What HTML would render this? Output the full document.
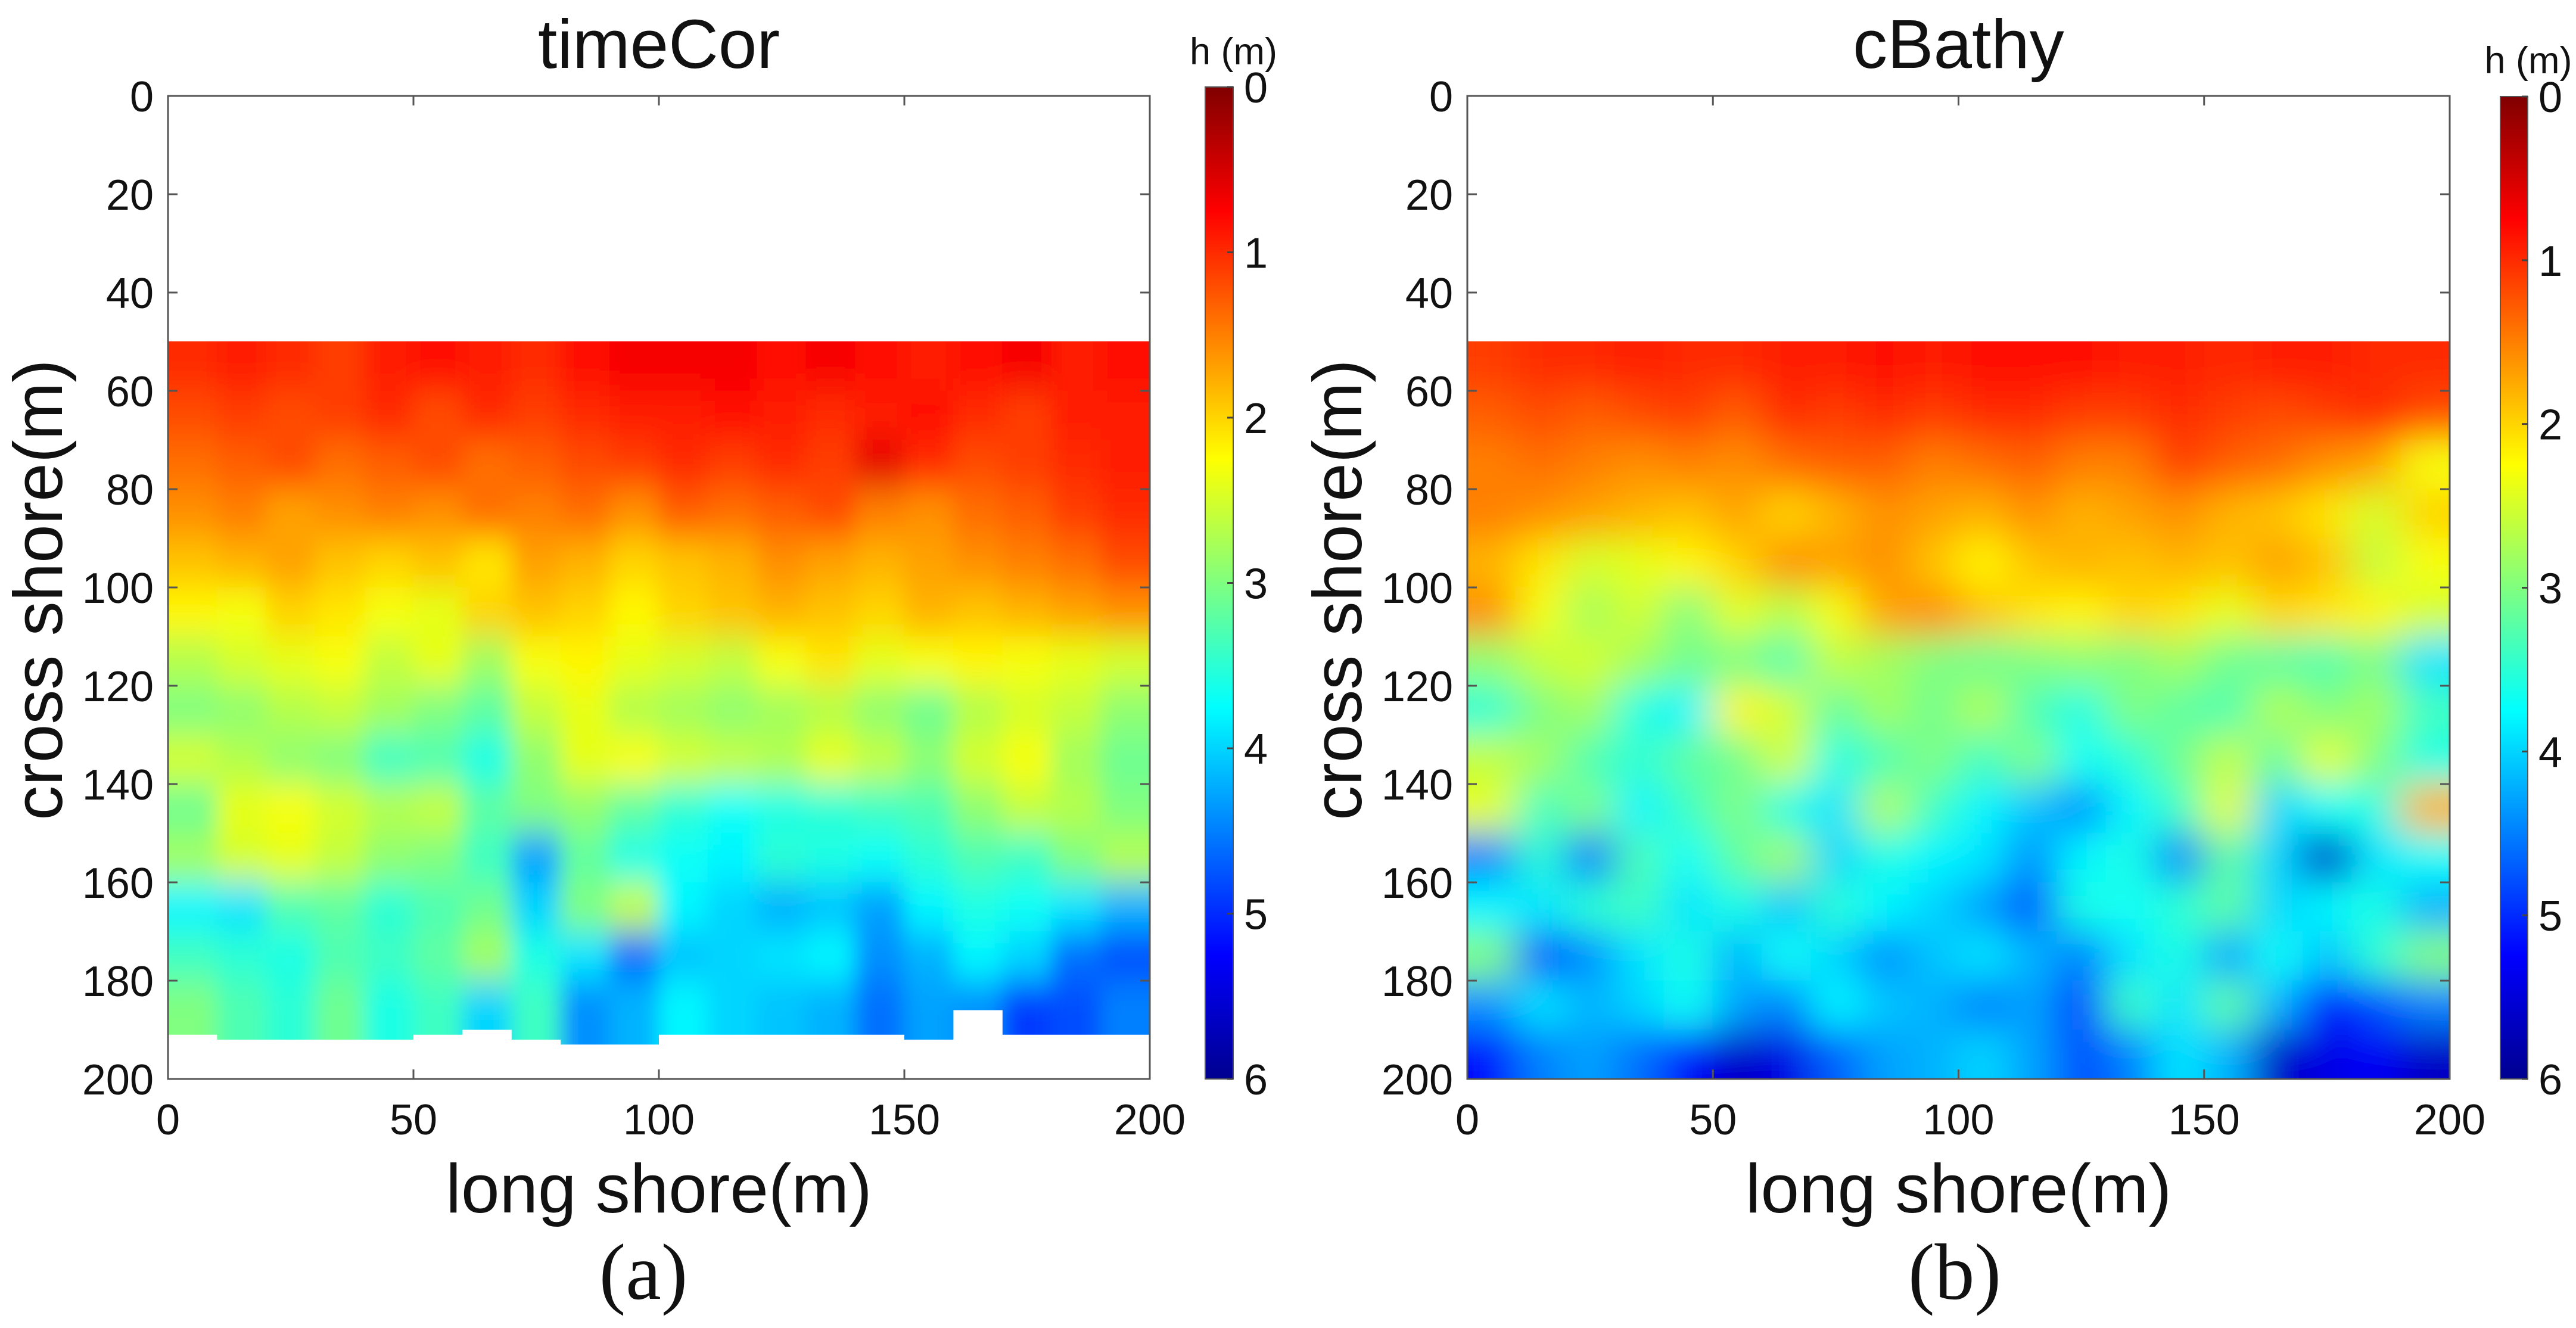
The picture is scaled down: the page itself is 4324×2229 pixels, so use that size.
<!DOCTYPE html>
<html><head><meta charset="utf-8">
<style>
html,body{margin:0;padding:0;background:#fff;}
svg{display:block;}
text{font-family:"Liberation Sans",sans-serif;fill:#111;}
</style></head>
<body>
<svg id="fig" width="4324" height="2229" viewBox="0 0 4324 2229" xmlns="http://www.w3.org/2000/svg">
<defs>
<linearGradient id="jetGrad" x1="0" y1="1" x2="0" y2="0">
<stop offset="0" stop-color="#00008f"/><stop offset="0.125" stop-color="#0000ff"/>
<stop offset="0.375" stop-color="#00ffff"/><stop offset="0.625" stop-color="#ffff00"/>
<stop offset="0.875" stop-color="#ff0000"/><stop offset="1" stop-color="#800000"/>
</linearGradient>
<filter id="blurA" filterUnits="userSpaceOnUse" x="0" y="300" width="2300" height="1800"><feGaussianBlur stdDeviation="18 30"/></filter>
<filter id="blurB" filterUnits="userSpaceOnUse" x="2200" y="300" width="2124" height="1800"><feGaussianBlur stdDeviation="34 32"/></filter>
<clipPath id="clipA"><rect x="282" y="573" width="1648" height="1238"/></clipPath>
<clipPath id="clipB"><rect x="2463" y="573" width="1649" height="1238"/></clipPath>
</defs>
<g id="panelA"></g>
<g id="panelB"></g>
</svg>
<script>
const xTicks=[0,50,100,150,200];
const yTicks=[0,20,40,60,80,100,120,140,160,180,200];
const cbTicks=[0,1,2,3,4,5,6];
const colCenters=[5,15,25,35,45,55,65,75,85,95,105,115,125,135,145,155,165,175,185,195];
const rowsA=[55,65,75,85,95,105,115,125,135,145,155,165,175,185];
const depthA=[
[1.0,0.9,1.0,1.1,0.9,0.8,0.9,1.0,0.8,0.7,0.7,0.7,0.8,0.7,0.8,0.9,0.8,0.7,0.9,0.8],
[1.2,1.1,1.2,1.1,1.0,1.2,1.0,1.1,1.0,0.9,0.9,0.8,0.9,1.0,0.9,0.8,1.0,1.1,0.9,0.9],
[1.4,1.3,1.2,1.4,1.3,1.2,1.4,1.3,1.2,1.1,1.0,1.1,1.0,1.1,0.6,1.0,1.2,1.1,1.0,0.9],
[1.6,1.5,1.7,1.6,1.5,1.6,1.4,1.5,1.4,1.6,1.3,1.4,1.3,1.2,1.5,1.6,1.4,1.3,1.1,1.0],
[1.9,1.8,1.7,1.9,2.0,1.9,2.1,1.7,1.8,2.0,1.9,1.8,1.6,1.7,1.8,1.7,1.6,1.5,1.4,1.2],
[2.2,2.3,2.0,2.1,2.3,2.4,2.0,1.9,2.0,2.2,2.0,1.9,1.8,1.9,2.0,1.8,1.9,1.8,1.7,1.6],
[2.7,2.5,2.4,2.3,2.6,2.4,2.8,2.3,2.2,2.4,2.5,2.6,2.3,2.1,2.4,2.3,2.2,2.3,2.4,2.5],
[3.0,2.9,2.7,2.6,2.8,3.0,3.2,2.6,2.4,2.7,2.8,2.9,2.8,2.7,2.9,3.1,2.7,2.5,2.6,2.9],
[2.5,2.7,2.9,3.0,3.4,3.3,3.6,2.9,2.4,2.3,2.5,2.6,2.7,2.4,2.6,2.9,2.5,2.3,2.8,3.1],
[3.1,2.4,2.3,2.5,2.7,2.6,3.2,3.0,2.9,3.2,3.5,3.7,3.6,3.5,3.4,3.3,2.9,2.6,2.7,3.0],
[2.8,2.5,2.4,2.6,2.9,3.0,3.4,4.3,3.2,3.6,3.7,3.8,3.5,3.6,3.7,3.5,3.3,3.4,3.0,2.7],
[3.8,3.9,3.3,3.2,3.5,3.3,3.1,4.0,3.0,2.6,3.8,4.0,4.2,4.1,4.3,3.8,3.6,3.7,3.9,4.2],
[3.4,3.5,3.6,3.3,3.4,3.2,2.8,3.6,3.9,4.6,4.1,4.0,3.9,3.8,4.4,4.2,3.8,4.0,4.6,4.8],
[3.0,3.3,3.5,3.1,3.6,3.4,4.0,3.4,4.4,4.2,3.8,4.0,4.1,4.2,4.6,4.3,4.4,4.9,4.8,4.5]];
const bottomEdgeA=[191,192,192,192,192,191,190,192,193,193,191,191,191,191,191,192,186,191,191,191];
const rowsB=[55,65,75,85,95,105,115,125,135,145,155,165,175,185,195];
const depthB=[
[1.1,1.0,1.0,0.9,1.0,1.0,0.9,0.9,0.8,0.9,0.8,0.8,0.8,0.9,0.9,1.0,0.9,0.9,1.0,1.0],
[1.3,1.2,1.3,1.2,1.1,1.3,1.0,1.1,1.0,1.1,1.0,1.0,1.1,1.1,1.0,1.1,1.2,1.1,1.0,1.2],
[1.5,1.4,1.5,1.6,1.5,1.6,1.4,1.3,1.3,1.5,1.4,1.3,1.5,1.5,1.1,1.3,1.4,1.6,1.7,2.3],
[1.5,1.6,1.7,1.8,1.9,1.7,2.0,1.8,1.6,1.7,1.8,1.6,1.8,1.7,1.6,1.8,1.9,2.1,2.5,2.0],
[1.8,2.1,2.5,2.4,2.2,2.0,1.6,1.7,1.6,1.9,2.2,1.9,1.8,1.9,1.8,1.9,1.7,1.9,2.6,2.3],
[1.6,2.3,2.8,2.5,3.0,2.4,2.7,2.3,1.7,1.6,1.9,2.1,2.2,2.0,2.1,2.4,2.0,2.1,2.2,2.5],
[2.9,2.6,2.5,2.8,3.1,3.0,3.3,2.6,2.8,3.0,3.1,3.0,2.9,3.0,2.8,3.1,3.2,3.3,3.0,3.9],
[3.5,3.0,2.8,3.6,3.8,2.2,2.5,3.2,2.8,3.1,2.7,3.3,3.6,3.0,3.2,3.3,2.7,3.0,2.8,3.4],
[2.6,2.8,3.3,3.5,3.2,3.1,2.5,3.6,3.3,3.0,3.4,3.0,3.7,3.5,3.1,2.6,3.2,2.4,3.0,3.6],
[2.4,3.4,3.0,3.8,3.4,3.0,3.6,3.9,2.7,3.4,3.8,4.1,4.4,3.8,3.4,2.4,4.0,3.7,3.6,1.8],
[4.5,3.5,4.6,3.3,3.7,3.2,2.8,4.0,3.6,3.8,3.9,4.4,3.8,3.6,4.5,3.2,4.0,5.6,3.9,3.7],
[3.8,3.9,3.5,3.4,3.9,3.6,4.1,3.5,3.8,4.0,4.3,4.8,3.6,3.7,3.5,3.2,4.0,3.8,3.6,4.2],
[3.0,4.8,4.4,3.9,3.6,4.2,3.7,4.0,4.4,4.1,3.9,4.2,4.5,3.9,3.6,4.3,3.7,4.1,3.5,3.0],
[4.4,3.9,4.2,4.0,3.7,4.3,4.5,3.8,4.1,4.2,4.5,4.3,4.9,3.4,3.9,3.2,4.2,5.2,4.8,4.5],
[5.2,4.5,4.3,4.6,5.2,5.6,5.4,4.7,4.3,4.2,4.0,4.3,4.8,4.5,3.9,4.2,5.6,5.4,5.3,5.6]];

const NS='http://www.w3.org/2000/svg';
function mk(tag,attrs,parent,txt){const e=document.createElementNS(NS,tag);for(const k in attrs)e.setAttribute(k,attrs[k]);if(txt!==undefined)e.textContent=txt;parent.appendChild(e);return e;}
function jet(v){let t=1-v/6;t=Math.max(0,Math.min(1,t));
 const f=(x)=>Math.max(0,Math.min(1,x));
 const r=f(1.5-Math.abs(4*t-3)),g=f(1.5-Math.abs(4*t-2)),b=f(1.5-Math.abs(4*t-1));
 return 'rgb('+Math.round(r*255)+','+Math.round(g*255)+','+Math.round(b*255)+')';}

function panel(g,cfg){
 const L=cfg.left,R=cfg.right,T=161,B=1811,PAD=160;
 const sx=v=>L+(v/200)*(R-L), sy=v=>T+(v/200)*(B-T);
 const clip=mk('g',{'clip-path':'url(#'+cfg.clip+')'},g);
 
 
 const hm=mk('g',{filter:'url(#'+cfg.filter+')'},clip);
 const nR=cfg.rows.length,nC=colCenters.length;
 cfg.rows.forEach((r,i)=>{
  let y0=sy(r-5), y1=sy(r+5);
  if(i===0) y0=sy(50)-PAD;
  if(i===nR-1) y1=B+PAD;
  colCenters.forEach((c,j)=>{
   let x0=sx(c-5), x1=sx(c+5);
   if(j===0) x0=L-PAD;
   if(j===nC-1) x1=R+PAD;
   const rc=mk('rect',{x:(x0-0.5).toFixed(1),y:(y0-0.5).toFixed(1),width:(x1-x0+1).toFixed(1),height:(y1-y0+1).toFixed(1),fill:jet(cfg.data[i][j])},hm);
   
   
  });
 });
 if(cfg.bottom){
  let pts=[[sx(0),B+2]];
  cfg.bottom.forEach((b,j)=>{pts.push([sx(colCenters[j]-5),sy(b)]);pts.push([sx(colCenters[j]+5),sy(b)]);});
  pts.push([sx(200),B+2]);
  const wp=mk('polygon',{points:pts.map(p=>p[0].toFixed(1)+','+p[1].toFixed(1)).join(' '),fill:'#fff'},clip);
  
  
 }
 const box=mk('rect',{x:L,y:T,width:R-L,height:B-T,fill:'none',stroke:'#555',"stroke-width":3},g);
 
 
 xTicks.forEach(v=>{
  mk('line',{x1:sx(v),x2:sx(v),y1:T,y2:T+16,stroke:'#555','stroke-width':3},g);
  mk('line',{x1:sx(v),x2:sx(v),y1:B,y2:B-16,stroke:'#555','stroke-width':3},g);
  const t=mk('text',{x:sx(v),y:1904,'text-anchor':'middle','font-size':72},g,String(v));
  
  
 });
 yTicks.forEach(v=>{
  mk('line',{x1:L,x2:L+16,y1:sy(v),y2:sy(v),stroke:'#555','stroke-width':3},g);
  mk('line',{x1:R,x2:R-16,y1:sy(v),y2:sy(v),stroke:'#555','stroke-width':3},g);
  const t=mk('text',{x:L-24,y:sy(v)+26,'text-anchor':'end','font-size':72},g,String(v));
  
  
 });
 const ti=mk('text',{x:(L+R)/2,y:114,'text-anchor':'middle','font-size':116},g,cfg.title);
 
 
 const xl=mk('text',{x:(L+R)/2,y:2035,'text-anchor':'middle','font-size':116},g,'long shore(m)');
 
 
 const yx=L-178, yc=990;
 const yl=mk('text',{x:yx,y:yc,'text-anchor':'middle','font-size':116,transform:'rotate(-90 '+yx+' '+yc+')'},g,'cross shore(m)');
 
 
 const pl=mk('text',{x:cfg.labX,y:2180,'text-anchor':'middle','font-size':134,style:'font-family:"Liberation Serif",serif'},g,cfg.lab);
 
 
 const cbT=cfg.cbTop, cbB=1811;
 const cb=mk('rect',{x:cfg.cbL,y:cbT,width:cfg.cbW,height:cbB-cbT,fill:'url(#jetGrad)',stroke:'#555','stroke-width':2},g);
 
 
 cbTicks.forEach(v=>{
  const y=cbT+(v/6)*(cbB-cbT);
  mk('line',{x1:cfg.cbL+cfg.cbW-10,x2:cfg.cbL+cfg.cbW,y1:y,y2:y,stroke:'#444','stroke-width':3},g);
  const t=mk('text',{x:cfg.cbL+cfg.cbW+18,y:y+26,'font-size':72},g,String(v));
  
  
 });
 const hl=mk('text',{x:cfg.cbL+cfg.cbW/2+24,y:cfg.hY,'text-anchor':'middle','font-size':63},g,'h (m)');
 
 
}
panel(document.getElementById('panelA'),{left:282,right:1930,data:depthA,rows:rowsA,bottom:bottomEdgeA,clip:'clipA',filter:'blurA',title:'timeCor',lab:'(a)',labX:1080,cbL:2023,cbW:47,cbTop:146,hY:108});
panel(document.getElementById('panelB'),{left:2463,right:4112,data:depthB,rows:rowsB,bottom:null,clip:'clipB',filter:'blurB',title:'cBathy',lab:'(b)',labX:3281,cbL:4197,cbW:46,cbTop:162,hY:123});
</script>
</body></html>
